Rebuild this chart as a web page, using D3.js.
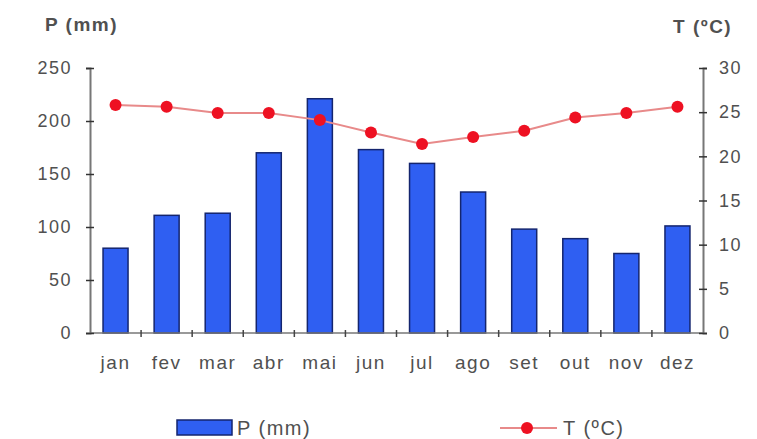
<!DOCTYPE html>
<html>
<head>
<meta charset="utf-8">
<script src="https://cdn.jsdelivr.net/npm/d3@7"></script>
<style>
  body { margin: 0; background: #fff; }
  text { font-family: "Liberation Sans", Arial, sans-serif; }
</style>
</head>
<body>
<div id="chart"></div>
<script>
// data
var months = ["jan", "fev", "mar", "abr", "mai", "jun", "jul", "ago", "set", "out", "nov", "dez"];
var precip = [80, 111, 113, 170, 221, 173, 160, 133, 98, 89, 75, 101];
var temp = [25.8, 25.6, 24.9, 24.9, 24.1, 22.7, 21.4, 22.2, 22.9, 24.4, 24.9, 25.6];
var pTicks = [0, 50, 100, 150, 200, 250];
var tTicks = [0, 5, 10, 15, 20, 25, 30];

var margin = {top: 68, right: 54, bottom: 106, left: 90},
    width = 757 - margin.left - margin.right,
    height = 439 - margin.top - margin.bottom;

var svg = d3.select("#chart")
  .append("svg")
    .attr("width", 757)
    .attr("height", 439)
  .append("g")
    .attr("transform", "translate(" + margin.left + "," + margin.top + ")");

var x = d3.scaleBand()
  .domain(months)
  .range([0, width]);

var yP = d3.scaleLinear().domain([0, 250]).range([height, 0]);
var yT = d3.scaleLinear().domain([0, 30]).range([height, 0]);

var textColor = "#505050";

// bars
var barW = 25;
svg.selectAll(".bar")
  .data(precip)
  .enter()
  .append("rect")
    .attr("class", "bar")
    .attr("x", function(d, i) { return x(months[i]) + x.bandwidth() / 2 - barW / 2; })
    .attr("y", function(d) { return yP(d); })
    .attr("width", barW)
    .attr("height", function(d) { return height - yP(d); })
    .attr("fill", "#2f5ff2")
    .attr("stroke", "#14256e")
    .attr("stroke-width", 1.5);

// x axis: line with ticks at band boundaries
svg.append("line")
  .attr("x1", 0).attr("x2", width)
  .attr("y1", height).attr("y2", height)
  .attr("stroke", "#777").attr("stroke-width", 1.5);
svg.selectAll(".xtick")
  .data(months.slice(1))
  .enter()
  .append("line")
    .attr("x1", function(d) { return x(d); })
    .attr("x2", function(d) { return x(d); })
    .attr("y1", height - 3)
    .attr("y2", height + 4)
    .attr("stroke", "#444").attr("stroke-width", 1.5);
svg.selectAll(".xlabel")
  .data(months)
  .enter()
  .append("text")
    .attr("x", function(d) { return x(d) + x.bandwidth() / 2; })
    .attr("y", height + 36)
    .attr("text-anchor", "middle")
    .attr("fill", textColor)
    .style("font-size", "19px")
    .style("letter-spacing", "1.5px")
    .text(function(d) { return d; });

// left axis
var left = svg.append("g")
  .call(d3.axisLeft(yP).tickValues(pTicks).tickSize(4).tickPadding(14));
left.select(".domain").attr("stroke", "#777").attr("stroke-width", 2);
left.selectAll(".tick line").attr("x2", 4).attr("x1", -4).attr("stroke", "#333").attr("stroke-width", 1.5);
left.selectAll(".tick text").attr("fill", textColor).style("font-size", "18px")
  .style("letter-spacing", "1.5px")
  .style("font-family", "Liberation Sans, Arial, sans-serif");

// right axis
var right = svg.append("g")
  .attr("transform", "translate(" + width + ",0)")
  .call(d3.axisRight(yT).tickValues(tTicks).tickSize(4).tickPadding(12));
right.select(".domain").attr("stroke", "#777").attr("stroke-width", 2);
right.selectAll(".tick line").attr("x1", -4).attr("x2", 4).attr("stroke", "#333").attr("stroke-width", 1.5);
right.selectAll(".tick text").attr("fill", textColor).style("font-size", "18px")
  .style("letter-spacing", "1.5px")
  .style("font-family", "Liberation Sans, Arial, sans-serif");

// temperature line
svg.append("path")
  .datum(temp)
  .attr("fill", "none")
  .attr("stroke", "#e88a8a")
  .attr("stroke-width", 2)
  .attr("d", d3.line()
    .x(function(d, i) { return x(months[i]) + x.bandwidth() / 2; })
    .y(function(d) { return yT(d); }));

svg.selectAll(".dot")
  .data(temp)
  .enter()
  .append("circle")
    .attr("cx", function(d, i) { return x(months[i]) + x.bandwidth() / 2; })
    .attr("cy", function(d) { return yT(d); })
    .attr("r", 6)
    .attr("fill", "#ee1122");

// axis titles
svg.append("text")
  .attr("x", -45).attr("y", -37)
  .attr("fill", textColor)
  .style("font-size", "19px").style("font-weight", "bold")
  .style("letter-spacing", "1.5px")
  .text("P (mm)");
svg.append("text")
  .attr("x", width - 30).attr("y", -35)
  .attr("fill", textColor)
  .style("font-size", "19px").style("font-weight", "bold")
  .style("letter-spacing", "1.5px")
  .text("T (ºC)");

// legend
var legend = d3.select("svg");
legend.append("rect")
  .attr("x", 177).attr("y", 420).attr("width", 55).attr("height", 15)
  .attr("fill", "#2f5ff2").attr("stroke", "#14256e").attr("stroke-width", 1.5);
legend.append("text")
  .attr("x", 237).attr("y", 435)
  .attr("fill", textColor).style("font-size", "20px")
  .style("letter-spacing", "1.5px")
  .text("P (mm)");
legend.append("line")
  .attr("x1", 500).attr("x2", 557).attr("y1", 428).attr("y2", 428)
  .attr("stroke", "#e88a8a").attr("stroke-width", 2);
legend.append("circle")
  .attr("cx", 527).attr("cy", 428).attr("r", 6).attr("fill", "#ee1122");
legend.append("text")
  .attr("x", 563).attr("y", 435)
  .attr("fill", textColor).style("font-size", "20px")
  .style("letter-spacing", "1.5px")
  .text("T (ºC)");
</script>
</body>
</html>
